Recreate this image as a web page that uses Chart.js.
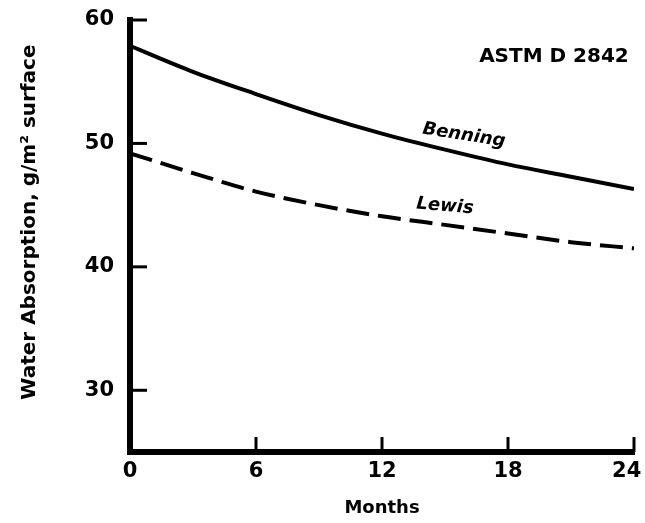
<!DOCTYPE html>
<html>
<head>
<meta charset="utf-8">
<script src="https://cdn.jsdelivr.net/npm/chart.js@4/dist/chart.umd.min.js"></script>
<style>
  html, body { margin: 0; padding: 0; background: #fff; }
  #wrap { width: 645px; height: 523px; }
</style>
</head>
<body>
<div id="wrap"><canvas id="c" width="645" height="523"></canvas></div>
<script>
const months = [0, 3, 6, 9, 12, 15, 18, 21, 24];
const benning = [57.9, 55.8, 54.0, 52.3, 50.8, 49.5, 48.3, 47.3, 46.3];
const lewis = [49.2, 47.6, 46.1, 45.0, 44.1, 43.4, 42.7, 42.0, 41.5];
const xTicks = [0, 6, 12, 18, 24];
const yTicks = [30, 40, 50, 60];
const seriesNames = ['Benning', 'Lewis'];
const noteText = 'ASTM D 2842';
const xTitle = 'Months';
const yTitle = 'Water Absorption, g/m\u00B2 surface';

const FONT = '"DejaVu Sans", sans-serif';

const toPts = (ys) => months.map((m, i) => ({ x: m, y: ys[i] }));

const annot = {
  id: 'annot',
  afterDraw(chart) {
    const { ctx, scales: { x, y } } = chart;
    ctx.save();
    ctx.fillStyle = '#000';
    ctx.strokeStyle = '#000';
    // inward tick marks
    ctx.lineWidth = 3;
    yTicks.forEach(v => {
      const py = y.getPixelForValue(v);
      ctx.beginPath();
      ctx.moveTo(x.left, py);
      ctx.lineTo(x.left + 17, py);
      ctx.stroke();
    });
    xTicks.forEach(v => {
      if (v === 0) return;
      const px = x.getPixelForValue(v);
      ctx.beginPath();
      ctx.moveTo(px, y.bottom);
      ctx.lineTo(px, y.bottom - 15);
      ctx.stroke();
    });
    // note
    ctx.font = 'bold 20px ' + FONT;
    ctx.textAlign = 'right';
    ctx.textBaseline = 'middle';
    ctx.fillText(noteText, x.getPixelForValue(23.75), y.getPixelForValue(57.05));
    // series labels
    ctx.font = 'italic bold 18px ' + FONT;
    ctx.textAlign = 'center';
    ctx.save();
    ctx.translate(x.getPixelForValue(15.9), y.getPixelForValue(50.65));
    ctx.rotate(9 * Math.PI / 180);
    ctx.fillText(seriesNames[0], 0, 0);
    ctx.restore();
    ctx.save();
    ctx.translate(x.getPixelForValue(15.0), y.getPixelForValue(44.9));
    ctx.rotate(5 * Math.PI / 180);
    ctx.fillText(seriesNames[1], 0, 0);
    ctx.restore();
    ctx.restore();
  }
};

new Chart(document.getElementById('c'), {
  type: 'line',
  data: {
    datasets: [
      {
        label: seriesNames[0],
        data: toPts(benning),
        borderColor: '#000',
        borderWidth: 4,
        pointRadius: 0,
        cubicInterpolationMode: 'monotone',
        fill: false
      },
      {
        label: seriesNames[1],
        data: toPts(lewis),
        borderColor: '#000',
        borderWidth: 4,
        borderDash: [23, 9],
        pointRadius: 0,
        cubicInterpolationMode: 'monotone',
        fill: false
      }
    ]
  },
  options: {
    responsive: false,
    animation: false,
    layout: { padding: { left: 0, right: 11, top: 20, bottom: 0 } },
    plugins: { legend: { display: false }, tooltip: { enabled: false } },
    scales: {
      x: {
        type: 'linear',
        min: 0, max: 24,
        afterBuildTicks: s => { s.ticks = xTicks.map(v => ({ value: v })); },
        afterFit: s => { s.height = 71; s.paddingLeft = 0; s.paddingRight = 0; },
        grid: { display: false, drawTicks: false },
        border: { display: true, color: '#000', width: 6 },
        ticks: {
          color: '#000', font: { family: FONT, size: 21, weight: 'bold' }, padding: 7, maxRotation: 0,
          callback: v => (v === xTicks[xTicks.length - 1] ? v + '\u00A0\u00A0' : '' + v)
        },
        title: { display: true, text: xTitle, color: '#000', font: { family: FONT, size: 18, weight: 'bold' }, padding: { top: 5 } }
      },
      y: {
        type: 'linear',
        min: 25, max: 60,
        afterBuildTicks: s => { s.ticks = yTicks.map(v => ({ value: v })); },
        afterFit: s => { s.width = 130; s.paddingTop = 0; s.paddingBottom = 0; },
        grid: { display: false, drawTicks: false },
        border: { display: true, color: '#000', width: 6 },
        ticks: { color: '#000', font: { family: FONT, size: 21, weight: 'bold' }, padding: 16 },
        title: {
          display: true, text: '\u00A0\u00A0\u00A0\u00A0' + yTitle, color: '#000',
          font: { family: FONT, size: 20, weight: 'bold' }, padding: { top: 18, bottom: 0 }
        }
      }
    }
  },
  plugins: [annot]
});
</script>
</body>
</html>
